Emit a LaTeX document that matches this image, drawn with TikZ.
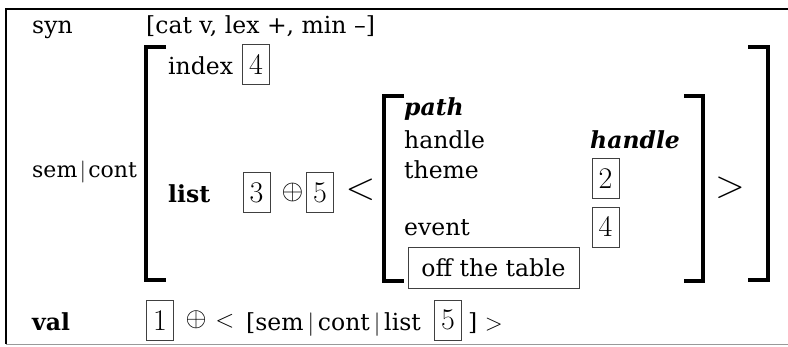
\RequirePackage{fix-cm}
\documentclass[tikz,border=0pt]{standalone}
\usepackage[no-math]{fontspec}
\setmainfont{DejaVu Serif}
\newcommand\fs{\fontsize{23.5}{28}\selectfont}
\begin{document}
\begin{tikzpicture}[x=1pt,y=-1pt,
  every node/.style={inner sep=0pt,font=\fs},
  lbl/.style={anchor=base west},
  tag/.style={draw=black!75,line width=0.8pt,minimum width=27pt,minimum height=40pt,font=\fontsize{30}{34}\selectfont},
  brak/.style={line width=3.5pt,line join=miter},
  bigop/.style={font=\fontsize{39}{44}\selectfont}]
\useasboundingbox (0,0) rectangle (788,346);
% frame
\draw[line width=2.5pt] (788,9) -- (6,9) -- (6,344);
\draw[black!40,line width=1pt] (6,344) -- (788,344);

\node[lbl] (syn) at (32,33) {syn};
\node[lbl] (synval) at (146,33) {[cat v, lex +, min –]};

\node[lbl,font=\fontsize{22}{26}\selectfont] (semcont) at (32,177) {sem$\mkern2mu|\mkern2mu$cont};
% outer brackets
\draw[brak] (166,47) -- (146,47) -- (146,280) -- (166,280);
\draw[brak] (748,47) -- (768,47) -- (768,280) -- (748,280);
\node[lbl] (index) at (168,74) {index};
\node[tag] (t4) at (256,64.5) {$4$};
\node[lbl,font=\fs\bfseries] (list) at (168,202) {list};
\node[tag] (t3) at (256.5,192.5) {$3$};
\node[font=\fontsize{28}{32}\selectfont] (oplus) at (292.5,192) {$\oplus$};
\node[tag] (t5) at (320,192.5) {$5$};
\node[bigop] (lt) at (360.5,190) {$<$};
% inner brackets
\draw[brak] (404,96) -- (384,96) -- (384,281) -- (404,281);
\draw[brak] (684,96) -- (703,96) -- (703,281) -- (684,281);
\node[lbl,font=\fs\bfseries\itshape] (path) at (404,115) {path};
\node[lbl] (handle) at (404,148) {handle};
\node[lbl,font=\fs\bfseries\itshape] (handlev) at (590,148) {handle};
\node[lbl] (theme) at (404,178) {theme};
\node[tag] (t2) at (605.5,178.5) {$2$};
\node[lbl] (event) at (404,235) {event};
\node[tag] (t4b) at (605.5,227) {$4$};
\node[tag,minimum width=171pt,minimum height=41pt,font=\fs] (off) at (493.5,267.5) {off the table};
\node[bigop] (gt) at (730,188) {$>$};

\node[lbl,font=\fs\bfseries] (val) at (32,330) {val};
\node[tag] (t1) at (160,320.5) {$1$};
\node[font=\fontsize{27}{30}\selectfont] (oplus2) at (196,320) {$\oplus$};
\node[font=\fontsize{25}{28}\selectfont] (lt2) at (225,321) {$<$};
\node[lbl] (valin) at (246,330) {[sem$\,|\,$cont$\,|\,$list};
\node[tag] (t5b) at (448,320) {$5$};
\node[lbl] (valend) at (468,330) {] $>$};
\end{tikzpicture}
\end{document}
